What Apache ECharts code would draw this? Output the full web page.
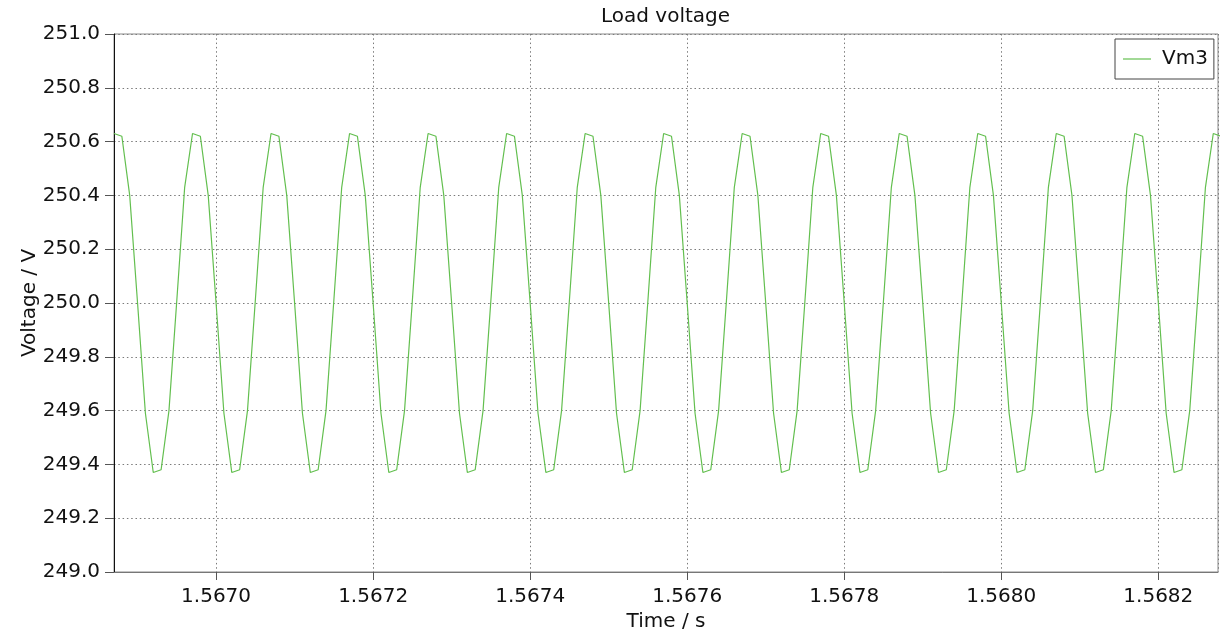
<!DOCTYPE html>
<html>
<head>
<meta charset="utf-8">
<title>Load voltage</title>
<script src="https://cdn.jsdelivr.net/npm/echarts@6/dist/echarts.min.js"></script>
<style>
  html, body { margin: 0; padding: 0; background: #fff; }
  #chart { width: 1224px; height: 637px; }
</style>
</head>
<body>
<div id="chart"></div>
<script>
// sampled every 10 us, first sample at the left edge of the plot
var startTime = 1.56687;
var sampleStep = 0.00001;

// Vm3 samples, one row per 100 us ripple period
var vm3 = [
  250.63, 250.62, 250.40, 250.00, 249.59, 249.37, 249.38, 249.60, 250.01, 250.43,
  250.63, 250.62, 250.40, 250.00, 249.59, 249.37, 249.38, 249.60, 250.01, 250.43,
  250.63, 250.62, 250.40, 250.00, 249.59, 249.37, 249.38, 249.60, 250.01, 250.43,
  250.63, 250.62, 250.40, 250.00, 249.59, 249.37, 249.38, 249.60, 250.01, 250.43,
  250.63, 250.62, 250.40, 250.00, 249.59, 249.37, 249.38, 249.60, 250.01, 250.43,
  250.63, 250.62, 250.40, 250.00, 249.59, 249.37, 249.38, 249.60, 250.01, 250.43,
  250.63, 250.62, 250.40, 250.00, 249.59, 249.37, 249.38, 249.60, 250.01, 250.43,
  250.63, 250.62, 250.40, 250.00, 249.59, 249.37, 249.38, 249.60, 250.01, 250.43,
  250.63, 250.62, 250.40, 250.00, 249.59, 249.37, 249.38, 249.60, 250.01, 250.43,
  250.63, 250.62, 250.40, 250.00, 249.59, 249.37, 249.38, 249.60, 250.01, 250.43,
  250.63, 250.62, 250.40, 250.00, 249.59, 249.37, 249.38, 249.60, 250.01, 250.43,
  250.63, 250.62, 250.40, 250.00, 249.59, 249.37, 249.38, 249.60, 250.01, 250.43,
  250.63, 250.62, 250.40, 250.00, 249.59, 249.37, 249.38, 249.60, 250.01, 250.43,
  250.63, 250.62, 250.40, 250.00, 249.59, 249.37, 249.38, 249.60, 250.01, 250.43,
  250.63, 250.62
];

var timeMin = 1.56687, timeMax = 1.568276;
var voltMin = 249.0, voltMax = 251.0, voltStep = 0.2;

var points = [];
for (var i = 0; i < vm3.length; i++) {
    points.push([startTime + i * sampleStep, vm3[i]]);
}

var font = 'DejaVu Sans';
var green = '#63bf4f';
var dots = { color: '#7a7a7a', width: 1, type: [1.5, 2.8] };

var option = {
    animation: false,
    backgroundColor: '#fff',
    title: {
        text: 'Load voltage',
        left: 601, top: 7, padding: 0,
        textStyle: { fontFamily: font, fontSize: 20, fontWeight: 'normal', color: '#111' }
    },
    legend: {
        data: [{ name: 'Vm3', icon: 'path://M0,0 H28 V1.2 H0 Z' }],
        left: 1115, top: 39,
        padding: [10, 6, 10, 8],
        itemWidth: 28, itemHeight: 20,
        symbolKeepAspect: true,
        borderColor: '#444', borderWidth: 1,
        backgroundColor: '#fff',
        textStyle: { fontFamily: font, fontSize: 20, color: '#111', padding: [0, 0, 0, 6] }
    },
    grid: {
        left: 114, right: 6, top: 34, bottom: 65,
        show: true, borderColor: '#8a8a8a', borderWidth: 1
    },
    xAxis: {
        type: 'value',
        min: timeMin, max: timeMax,
        splitNumber: 7,
        name: 'Time / s',
        nameLocation: 'middle', nameGap: 39,
        nameTextStyle: { fontFamily: font, fontSize: 20, color: '#111' },
        axisLine: { show: true, lineStyle: { color: '#777', width: 1 } },
        axisTick: { show: true, length: 8, lineStyle: { color: '#555' } },
        axisLabel: {
            fontFamily: font, fontSize: 20, color: '#111', margin: 15,
            showMinLabel: false, showMaxLabel: false,
            formatter: function (v) { return v.toFixed(4); }
        },
        splitLine: { show: true, lineStyle: dots }
    },
    yAxis: {
        type: 'value',
        min: voltMin, max: voltMax, interval: voltStep,
        name: 'Voltage / V',
        nameLocation: 'middle', nameGap: 74,
        nameMoveOverlap: false,
        nameTextStyle: { fontFamily: font, fontSize: 20, color: '#111' },
        axisLine: { show: true, lineStyle: { color: '#111', width: 1 } },
        axisTick: { show: true, length: 9, lineStyle: { color: '#555' } },
        axisLabel: {
            fontFamily: font, fontSize: 20, color: '#111', margin: 14,
            formatter: function (v) { return v.toFixed(1); }
        },
        splitLine: { show: true, lineStyle: dots }
    },
    series: [{
        name: 'Vm3',
        type: 'line',
        data: points,
        symbol: 'none',
        clip: true,
        lineStyle: { color: green, width: 1.2 },
        itemStyle: { color: green }
    }]
};

var myChart = echarts.init(document.getElementById('chart'));
myChart.setOption(option);
</script>
</body>
</html>
